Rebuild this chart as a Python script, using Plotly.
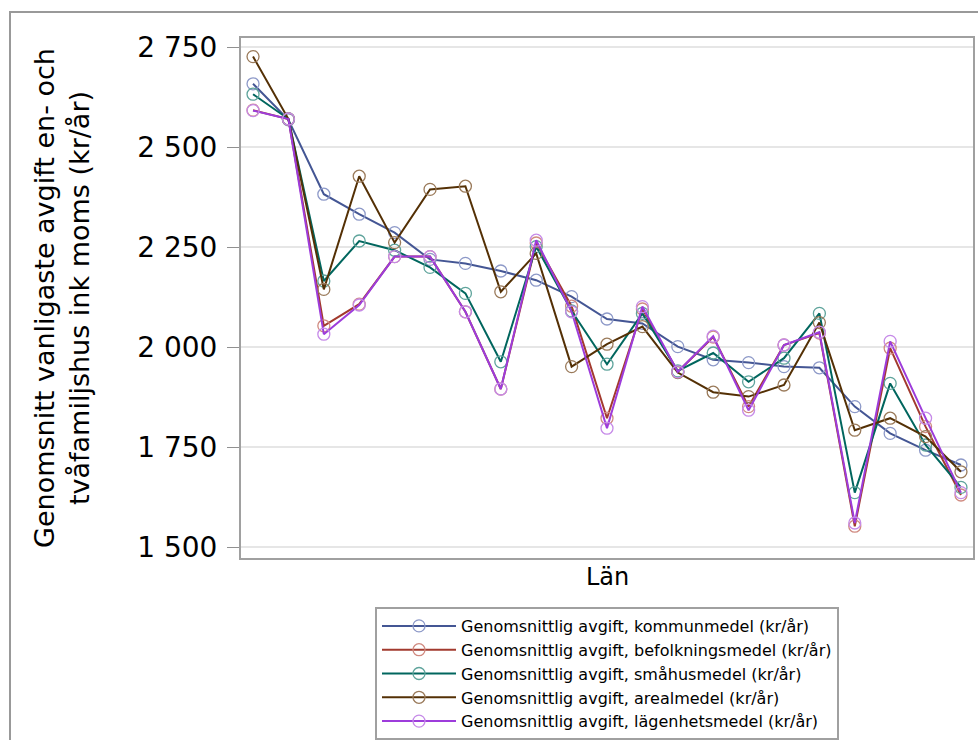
import plotly.graph_objects as go

lan = list(range(1, 22))

kommunmedel = [2658, 2568, 2382, 2332, 2286, 2219, 2209, 2190, 2167, 2126, 2070,
               2059, 2001, 1968, 1961, 1951, 1948, 1851, 1784, 1742, 1705]
befolkningsmedel = [2592, 2570, 2053, 2107, 2226, 2226, 2088, 1895, 2260, 2102, 1822,
                    2095, 1938, 2025, 1851, 2005, 2035, 1552, 1997, 1801, 1630]
smahusmedel = [2632, 2570, 2165, 2265, 2242, 2199, 2134, 1963, 2251, 2090, 1957,
               2084, 1940, 1985, 1913, 1972, 2084, 1636, 1909, 1755, 1649]
arealmedel = [2726, 2570, 2144, 2427, 2261, 2394, 2402, 2138, 2234, 1951, 2007,
              2051, 1936, 1887, 1876, 1905, 2061, 1792, 1822, 1776, 1688]
lagenhetsmedel = [2591, 2570, 2032, 2105, 2226, 2226, 2088, 1895, 2267, 2088, 1797,
                  2101, 1938, 2027, 1842, 2005, 2037, 1560, 2014, 1822, 1636]

series = [
    ("Genomsnittlig avgift, kommunmedel (kr/år)", kommunmedel, "#445694", "#8d99c8"),
    ("Genomsnittlig avgift, befolkningsmedel (kr/år)", befolkningsmedel, "#A23A2E", "#d08a80"),
    ("Genomsnittlig avgift, småhusmedel (kr/år)", smahusmedel, "#01665E", "#5fa49c"),
    ("Genomsnittlig avgift, arealmedel (kr/år)", arealmedel, "#543005", "#9a7a5a"),
    ("Genomsnittlig avgift, lägenhetsmedel (kr/år)", lagenhetsmedel, "#9D3CDB", "#c68ae8"),
]

fig = go.Figure()
for name, vals, lc, mc in series:
    fig.add_trace(go.Scatter(
        x=lan, y=vals, name=name, mode="lines+markers",
        line=dict(color=lc, width=2),
        marker=dict(symbol="circle-open", size=12, color=mc, line=dict(width=1.3)),
    ))

fig.update_layout(
    width=978, height=740,
    margin=dict(l=241, r=5, t=38, b=182, autoexpand=False),
    paper_bgcolor="white", plot_bgcolor="white",
    font=dict(family="DejaVu Sans", color="black"),
    showlegend=True,
    legend=dict(
        x=0.5, y=(558 - 607) / 520, xanchor="center", yanchor="top",
        bgcolor="white", bordercolor="#a0a0a0", borderwidth=2,
        font=dict(family="DejaVu Sans", size=16, color="black"),
        tracegroupgap=0, itemwidth=74,
    ),
)

fig.update_xaxes(
    range=[0.66, 21.34], showticklabels=False, ticks="",
    showgrid=False, zeroline=False,
    showline=True, linecolor="#a0a0a0", linewidth=2, mirror=True,
)
fig.update_yaxes(
    range=[1472.5, 2772.5], tickvals=[1500, 1750, 2000, 2250, 2500, 2750],
    ticktext=["1 500", "1 750", "2 000", "2 250", "2 500", "2 750"],
    tickfont=dict(family="DejaVu Sans", size=28, color="black"),
    ticks="outside", ticklen=12, tickcolor="#909090", tickwidth=1,
    ticklabelstandoff=4,
    showgrid=True, gridcolor="#e6e6e6", gridwidth=2, zeroline=False,
    showline=True, linecolor="#a0a0a0", linewidth=2, mirror=True,
)

fig.add_annotation(
    text="Län", xref="paper", yref="paper", x=0.5, y=-0.0365,
    xanchor="center", yanchor="middle", showarrow=False,
    font=dict(family="DejaVu Sans", size=24, color="black"),
)
fig.add_annotation(
    text="Genomsnitt vanligaste avgift en- och<br>tvåfamiljshus ink moms (kr/år)",
    xref="paper", yref="paper", x=(62 - 241) / 732, y=(558 - 298) / 520, textangle=-90,
    xanchor="center", yanchor="middle", showarrow=False,
    font=dict(family="DejaVu Sans", size=27, color="black"),
)

fig.add_shape(
    type="rect", xref="paper", yref="paper",
    x0=(10 - 241) / 732, x1=(1000 - 241) / 732,
    y0=(558 - 12) / 520, y1=(558 - 780) / 520,
    line=dict(color="#999999", width=2), fillcolor="rgba(0,0,0,0)", layer="below",
)

fig.write_html("out.html", config={"displayModeBar": False},
               post_script="document.body.style.margin='0px';")
